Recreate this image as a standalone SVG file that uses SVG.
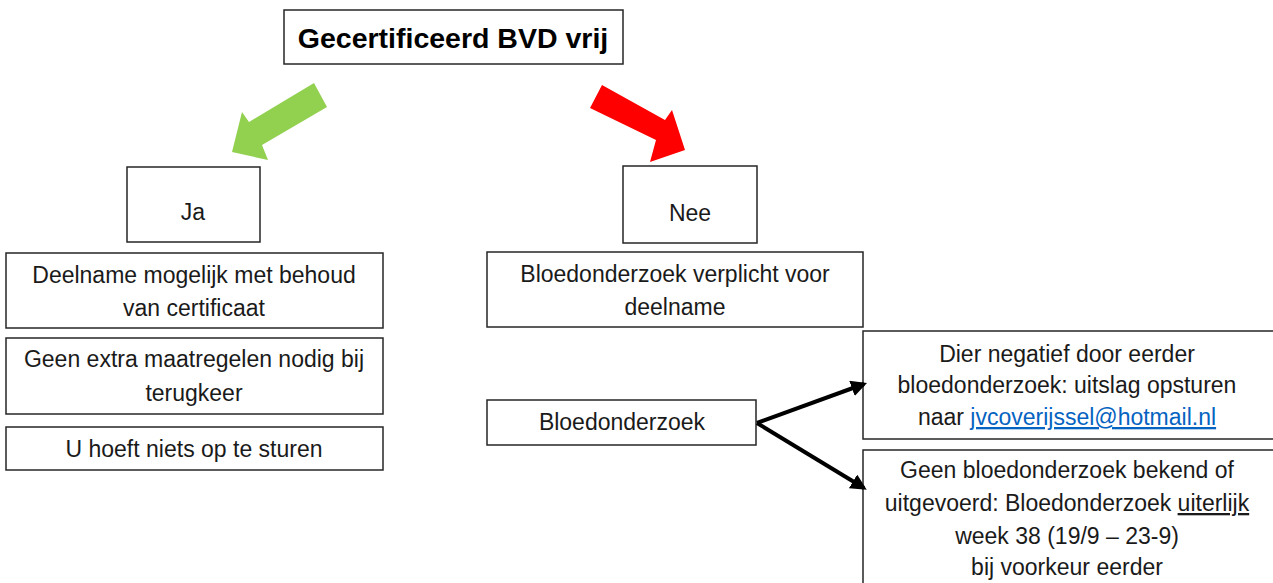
<svg xmlns="http://www.w3.org/2000/svg" width="1273" height="583" viewBox="0 0 1273 583">
<style>
.box{fill:#fff;stroke:#262626;stroke-width:1.5}
.t{font-family:"Liberation Sans",Arial,sans-serif;font-size:23px;fill:#1a1a1a;text-anchor:middle}
.title{font-family:"Liberation Sans",Arial,sans-serif;font-size:28.5px;font-weight:bold;fill:#000;text-anchor:middle}
.link{fill:#0563C1;text-decoration:underline}
.u{text-decoration:underline}
.conn{stroke:#000;stroke-width:4;fill:none}
</style>
<defs>
<marker id="ah" viewBox="0 0 10 10" refX="8" refY="5" markerWidth="4" markerHeight="4" orient="auto" markerUnits="strokeWidth">
<path d="M0,0 L10,5 L0,10 z" fill="#000"/>
</marker>
</defs>
<rect width="1273" height="583" fill="#fff"/>
<g id="title"><rect class="box" x="284" y="10" width="339" height="54"/><text class="title" x="453" y="48">Gecertificeerd BVD vrij</text></g>
<g id="arrow-green"><polygon points="314,83 327,107 262,145 268,160 232,152 242,112 249,122" fill="#92D050"/></g>
<g id="arrow-red"><polygon points="602,85 665,120 672,110 685,150 650,162 656,140 590,108" fill="#FF0000"/></g>
<g id="ja"><rect class="box" x="127" y="167" width="133" height="75"/><text class="t" x="193" y="220">Ja</text></g>
<g id="deelname"><rect class="box" x="6" y="253" width="377" height="75"/><text class="t" x="194" y="283">Deelname mogelijk met behoud</text><text class="t" x="194" y="316">van certificaat</text></g>
<g id="geen-extra"><rect class="box" x="6" y="338" width="377" height="76"/><text class="t" x="194" y="367">Geen extra maatregelen nodig bij</text><text class="t" x="194" y="401">terugkeer</text></g>
<g id="u-hoeft"><rect class="box" x="6" y="427" width="377" height="43"/><text class="t" x="194" y="457">U hoeft niets op te sturen</text></g>
<g id="nee"><rect class="box" x="623" y="166" width="134" height="77"/><text class="t" x="690" y="221">Nee</text></g>
<g id="verplicht"><rect class="box" x="487" y="252" width="376" height="75"/><text class="t" x="675" y="282">Bloedonderzoek verplicht voor</text><text class="t" x="675" y="315">deelname</text></g>
<g id="bloedonderzoek"><rect class="box" x="487" y="400" width="269" height="45"/><text class="t" x="622" y="430">Bloedonderzoek</text></g>
<g id="negatief"><rect class="box" x="863" y="331" width="412" height="108"/><text class="t" x="1067" y="362">Dier negatief door eerder</text><text class="t" x="1067" y="393">bloedonderzoek: uitslag opsturen</text><text class="t" x="1067" y="425">naar <tspan class="link">jvcoverijssel@hotmail.nl</tspan></text></g>
<g id="geen-bloed"><rect class="box" x="863" y="450" width="412" height="140"/><text class="t" x="1067" y="478">Geen bloedonderzoek bekend of</text><text class="t" x="1067" y="511">uitgevoerd: Bloedonderzoek <tspan class="u">uiterlijk</tspan></text><text class="t" x="1067" y="544">week 38 (19/9 – 23-9)</text><text class="t" x="1067" y="575">bij voorkeur eerder</text></g>
<g id="connectors">
<line class="conn" x1="757" y1="423" x2="864" y2="384" marker-end="url(#ah)"/>
<line class="conn" x1="757" y1="423" x2="864" y2="488" marker-end="url(#ah)"/>
</g>
</svg>
